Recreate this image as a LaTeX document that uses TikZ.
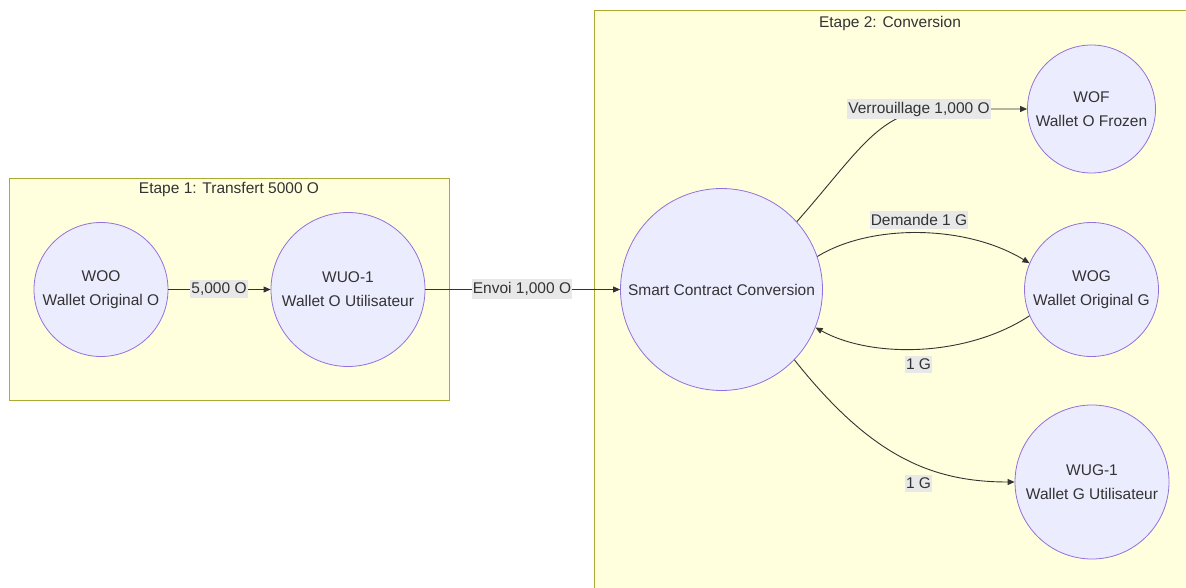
\documentclass[tikz,border=0pt]{standalone}
\usepackage{fontspec}
\setmainfont{Liberation Sans}
\usetikzlibrary{arrows.meta}
\definecolor{nodefill}{HTML}{ECECFF}
\definecolor{nodeline}{HTML}{9370DB}
\definecolor{clusterfill}{HTML}{FFFFDE}
\definecolor{clusterline}{HTML}{AAAA33}
\definecolor{labelbg}{HTML}{E8E8E8}
\definecolor{ink}{HTML}{333333}
\begin{document}
\begin{tikzpicture}[x=1pt,y=-1pt,
 wallet/.style={circle, draw=nodeline, fill=nodefill, line width=0.8pt, inner sep=0pt},
 wtext/.style={align=center, text=ink, font=\fontsize{15.5}{24}\selectfont, inner sep=0pt},
 cluster/.style={draw=clusterline, fill=clusterfill, line width=0.8pt},
 ctitle/.style={text=ink, font=\fontsize{15.5}{18}\selectfont},
 elabel/.style={fill=labelbg, text=ink, font=\fontsize{15.5}{18}\selectfont, inner xsep=1pt, inner ysep=3pt},
 flow/.style={draw=ink, line width=0.9pt, -{Triangle[length=7pt,width=6pt]}}]
\fill[white] (0,0) rectangle (1186,588);
\useasboundingbox (0,0) rectangle (1186,588);
% clusters
\draw[cluster] (9,178) rectangle (449,400);
\draw[cluster] (594.5,10.5) rectangle (1200,600);
\node[ctitle] (t1) at (229,190) {Etape 1: Transfert 5000 O};
\node[ctitle] (t2) at (890,23) {Etape 2: Conversion};
% nodes
\node[wallet, minimum size=134pt] (woo) at (101,289.5) {};
\node[wtext] (wootxt) at (woo) {WOO\\Wallet Original O};
\node[wallet, minimum size=154pt] (wuo) at (348,289.5) {};
\node[wtext] (wuotxt) at (wuo) {WUO-1\\Wallet O Utilisateur};
\node[wallet, minimum size=202pt] (scc) at (721.5,289.5) {};
\node[wtext] (scctxt) at (scc) {Smart Contract Conversion};
\node[wallet, minimum size=128pt] (wof) at (1091.5,109) {};
\node[wtext] (woftxt) at (wof) {WOF\\Wallet O Frozen};
\node[wallet, minimum size=134pt] (wog) at (1091.5,289.5) {};
\node[wtext] (wogtxt) at (wog) {WOG\\Wallet Original G};
\node[wallet, minimum size=154pt] (wug) at (1092,482) {};
\node[wtext] (wugtxt) at (wug) {WUG-1\\Wallet G Utilisateur};
% edges
\draw[flow] (woo) -- (wuo);
\draw[flow] (wuo) -- (scc);
\draw[flow] (scc.42) .. controls (860,150) and (880,109) .. (940,109) -- (wof.west);
\draw[flow] (scc.19) .. controls (870,224) and (965,224) .. (wog.157);
\draw[flow] (wog.203) .. controls (965,358) and (870,358) .. (scc.-22);
\draw[flow] (scc.-44) .. controls (870,455) and (930,482) .. (wug.west);
% edge labels
\node[elabel] (l1) at (219,289) {5,000 O};
\node[elabel] (l2) at (522,289) {Envoi 1,000 O};
\node[elabel] (l3) at (919,109) {Verrouillage 1,000 O};
\node[elabel] (l4) at (919,220) {Demande 1 G};
\node[elabel] (l5) at (918.5,364.5) {1 G};
\node[elabel] (l6) at (918.5,483.5) {1 G};
\end{tikzpicture}
\end{document}
